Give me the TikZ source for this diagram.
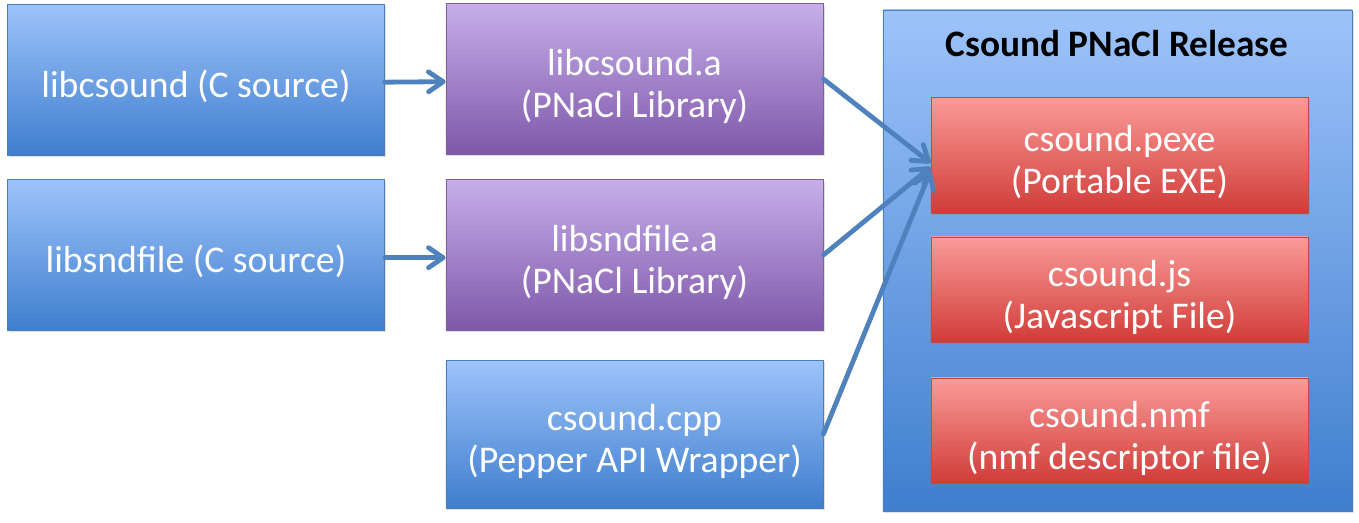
\documentclass[tikz,border=0pt]{standalone}
\usepackage{fontspec}
\setmainfont{Carlito}
\usetikzlibrary{arrows.meta,shadows}
\definecolor{bluetop}{HTML}{9DC3FA}
\definecolor{bluebot}{HTML}{3F7ECE}
\definecolor{blueline}{HTML}{4A7EBB}
\definecolor{purptop}{HTML}{C6AEEA}
\definecolor{purpbot}{HTML}{7E58A9}
\definecolor{purpline}{HTML}{7D5FA0}
\definecolor{redtop}{HTML}{FA9B98}
\definecolor{redbot}{HTML}{D03C38}
\definecolor{redline}{HTML}{BE4B48}
\definecolor{arrowblue}{HTML}{4F81BD}
\begin{document}
\begin{tikzpicture}[x=0.75pt, y=-0.75pt,
    box/.style={minimum width=283pt, minimum height=113pt, inner sep=0pt,
      align=center, text=white, font=\fontsize{28.3}{31.5}\selectfont,
      text height=58.3pt, text depth=0pt,
      drop shadow={shadow xshift=1pt, shadow yshift=-1.5pt, opacity=0.25}},
    oneline/.style={text height=26.8pt},
    srcbox/.style={box, draw=blueline, top color=bluetop, bottom color=bluebot},
    libbox/.style={box, draw=purpline, top color=purptop, bottom color=purpbot},
    outbox/.style={box, draw=redline, top color=redtop, bottom color=redbot,
      minimum width=283pt},
    link/.style={draw=arrowblue, line width=3.6pt, line cap=round,
      -{Straight Barb[length=11pt,width=15pt,round]}}]
   \useasboundingbox (0,0) rectangle (1359,522);
   % release container
   \node[draw=blueline, top color=bluetop, bottom color=bluebot, minimum width=352pt,
     minimum height=376pt, inner sep=0pt,
     drop shadow={shadow xshift=1pt, shadow yshift=-1.5pt, opacity=0.25}] (r) at (1117.5,260.5) {};
   \node[font=\fontsize{28}{31.5}\selectfont\bfseries] (t) at (1117,44) {Csound PNaCl Release};
   \node[outbox, minimum height=87pt] (c1) at (1119.5,155) {csound.pexe\\(Portable EXE)};
   \node[outbox, minimum height=79pt] (c2) at (1119.5,289.5) {csound.js\\(Javascript File)};
   \node[outbox, minimum height=79pt] (c3) at (1119.5,430.5) {csound.nmf\\(nmf descriptor file)};
   % sources
   \node[srcbox, oneline] (a1) at (196,79.5) {libcsound (C source)};
   \node[srcbox, oneline] (a2) at (196,255) {libsndfile (C source)};
   % libraries
   \node[libbox] (b1) at (634.5,79) {libcsound.a\\(PNaCl Library)};
   \node[libbox] (b2) at (634.5,255) {libsndfile.a\\(PNaCl Library)};
   \node[srcbox, minimum height=111pt] (b3) at (634.5,434) {csound.cpp\\(Pepper API Wrapper)};
   % arrows
   \draw[link] ([yshift=-2pt]a1.east) -- ([yshift=-2pt]b1.west);
   \draw[link] ([yshift=-2pt]a2.east) -- ([yshift=-2pt]b2.west);
   \draw[link] (b1.east) -- ([yshift=-6pt]c1.west);
   \draw[link] (b2.east) -- ([yshift=-9pt]c1.west);
   \draw[link] (b3.east) -- ([yshift=-12pt]c1.west);
\end{tikzpicture}
\end{document}
